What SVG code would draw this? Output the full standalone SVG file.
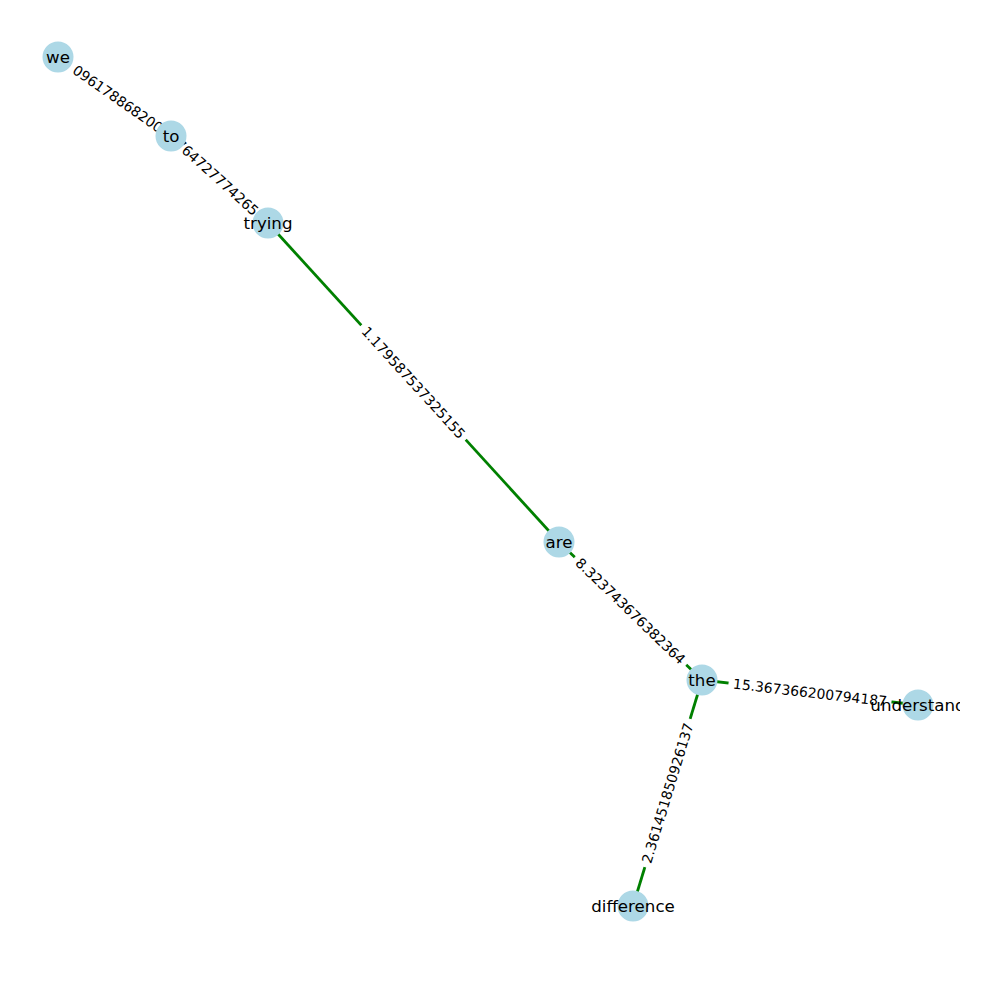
<svg xmlns="http://www.w3.org/2000/svg" width="1000" height="1000" viewBox="0 0 1000 1000">
<defs>
<clipPath id="ax"><rect x="0" y="0" width="960" height="1000"/></clipPath>
</defs>
<style>
.edge{stroke:#008000;stroke-width:2.8;fill:none}
.lbox{fill:#fff;stroke:#fff}
.elbl{font-family:"DejaVu Sans",sans-serif;font-size:13.9px;fill:#000;text-anchor:middle;dominant-baseline:central}
.node circle{fill:#add8e6}
.node text{font-family:"DejaVu Sans",sans-serif;font-size:16.67px;fill:#000;text-anchor:middle;dominant-baseline:central}
</style>
<rect width="1000" height="1000" fill="#fff"/>
<g clip-path="url(#ax)">
<g id="connectors">
<line class="edge" x1="58" y1="57" x2="171" y2="136"/>
<line class="edge" x1="171" y1="136" x2="268" y2="223"/>
<line class="edge" x1="268" y1="223" x2="559" y2="542"/>
<line class="edge" x1="559" y1="542" x2="702" y2="680"/>
<line class="edge" x1="702" y1="680" x2="918" y2="705"/>
<line class="edge" x1="702" y1="680" x2="633" y2="906"/>
</g>
<g id="edge-labels">
<g transform="translate(117.8,98.8) rotate(34.96)">
<rect class="lbox" x="-72" y="-12" width="144" height="24" rx="4"/>
<text class="elbl" x="0" y="0">096178868200</text>
</g>
<g transform="translate(217,177.3) rotate(41.9)">
<rect class="lbox" x="-68" y="-12" width="136" height="24" rx="4"/>
<text class="elbl" x="0" y="0">764727774265</text>
</g>
<g transform="translate(413.5,382.5) rotate(47.6)">
<rect class="lbox" x="-77" y="-12" width="154" height="24" rx="4"/>
<text class="elbl" x="0" y="0">1.179587537325155</text>
</g>
<g transform="translate(630.5,611) rotate(43.98)">
<rect class="lbox" x="-77" y="-12" width="154" height="24" rx="4"/>
<text class="elbl" x="0" y="0">8.323743676382364</text>
</g>
<g transform="translate(810,692.5) rotate(6.6)">
<rect class="lbox" x="-81.5" y="-12" width="163" height="24" rx="4"/>
<text class="elbl" x="0" y="0">15.367366200794187</text>
</g>
<g transform="translate(667.5,793) rotate(-73)">
<rect class="lbox" x="-77" y="-12" width="154" height="24" rx="4"/>
<text class="elbl" x="0" y="0">2.361451850926137</text>
</g>
</g>
<g id="we" class="node"><circle cx="58" cy="57" r="15.5"/><text x="58" y="57">we</text></g>
<g id="to" class="node"><circle cx="171" cy="136" r="15.5"/><text x="171" y="136">to</text></g>
<g id="trying" class="node"><circle cx="268" cy="223" r="15.5"/><text x="268" y="223">trying</text></g>
<g id="are" class="node"><circle cx="559" cy="542" r="15.5"/><text x="559" y="542">are</text></g>
<g id="the" class="node"><circle cx="702" cy="680" r="15.5"/><text x="702" y="680">the</text></g>
<g id="understand" class="node"><circle cx="918" cy="705" r="15.5"/><text x="918" y="705">understand</text></g>
<g id="difference" class="node"><circle cx="633" cy="906" r="15.5"/><text x="633" y="906">difference</text></g>
</g>
</svg>
